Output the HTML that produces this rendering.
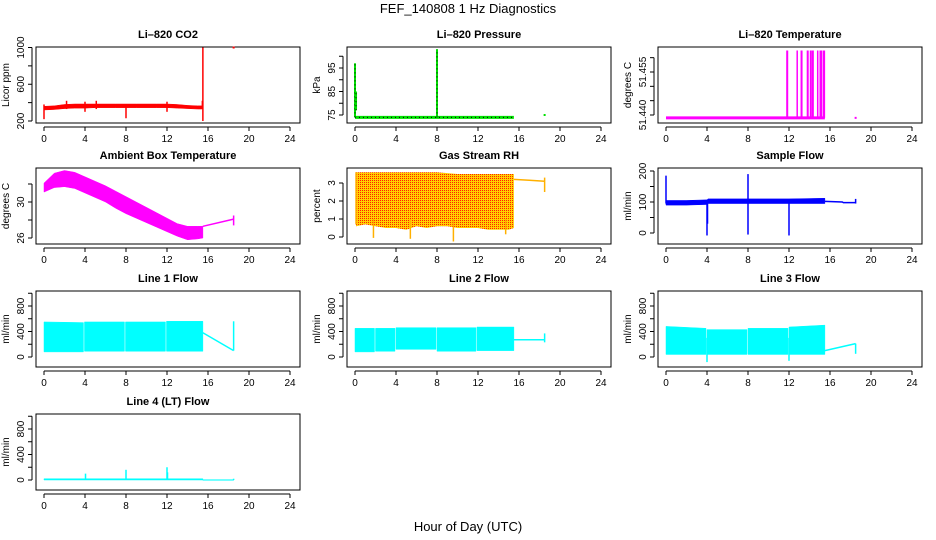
<!DOCTYPE html>
<html><head><meta charset="utf-8">
<style>
html,body{margin:0;padding:0;background:#fff;}
svg{display:block;font-family:"Liberation Sans",sans-serif;}
</style></head>
<body>
<svg id="chart" width="936" height="540" viewBox="0 0 936 540" xmlns="http://www.w3.org/2000/svg">
<defs>
<pattern id="rhpat" width="2" height="2" patternUnits="userSpaceOnUse">
<rect width="2" height="2" fill="#ffd000"/><rect width="1" height="1" fill="#ff2000"/>
</pattern>
</defs>
<text x="468" y="13" text-anchor="middle" font-size="13">FEF_140808  1 Hz Diagnostics</text>
<text x="468" y="531" text-anchor="middle" font-size="13">Hour of Day (UTC)</text>
</svg>
<script>
// x-axis ticks (hours)
var xTicks = [0,4,8,12,16,20,24];

// Li-820 CO2
var co2Hours = [0,1,2,3,4,5,6,7,8,9,10,11,12,13,14,15,15.4];
var co2Lo = [320,325,335,340,340,345,345,345,345,345,345,345,345,340,335,330,330];
var co2Hi = [360,365,380,385,385,385,385,385,385,385,385,385,385,380,370,365,365];
var co2SpikeX = [0,2.2,4,5.1,8,12,15.45,15.5];
var co2SpikeLo = [220,330,300,330,230,300,330,200];
var co2SpikeHi = [380,420,410,420,380,410,420,1000];
var co2PointX = [18.5];
var co2PointY = [1000];
var co2Ticks = [200,400,600,800,1000];
var co2Labels = ["200","","600","","1000"];

// Li-820 Pressure
var presLineX = [0,15.5];
var presLineY = [74,74];
var presSpikeX = [0,0.1,8];
var presSpikeLo = [74,77,74];
var presSpikeHi = [97,85,103];
var presPointX = [18.5];
var presPointY = [75];
var presTicks = [75,80,85,90,95,100];
var presLabels = ["75","","85","","95",""];

// Li-820 Temperature
var tempLineX = [0,15.5];
var tempLineY = [51.439,51.439];
var tempSpikeX = [11.8,11.85,12.8,13.2,13.25,13.8,13.85,14.1,14.25,14.35,14.8,15.05,15.15,15.35,15.45];
var tempSpikeLo = [51.439,51.439,51.439,51.439,51.439,51.439,51.439,51.439,51.439,51.439,51.439,51.439,51.439,51.439,51.439];
var tempSpikeHi = [51.4625,51.4625,51.4625,51.4625,51.4625,51.4625,51.4625,51.4625,51.4625,51.4625,51.4625,51.4625,51.4625,51.4625,51.4625];
var tempPointX = [18.5];
var tempPointY = [51.439];
var tempTicks = [51.440,51.445,51.450,51.455,51.460];
var tempLabels = ["51.440","","","51.455",""];

// Ambient Box Temperature
var ambHours = [0,1,2,3,4,5,6,7,8,9,10,11,12,13,14,15,15.5];
var ambHi = [32.1,33.2,33.5,33.3,32.8,32.3,31.8,31.2,30.6,30.0,29.4,28.8,28.2,27.6,27.3,27.3,27.3];
var ambLo = [31.1,31.6,31.7,31.5,31.0,30.5,30.0,29.3,28.7,28.2,27.7,27.2,26.7,26.2,25.8,25.9,26.0];
var ambTailX = [15.5,18.5];
var ambTailY = [27.3,28.1];
var ambSpikeX = [18.5];
var ambSpikeLo = [27.4];
var ambSpikeHi = [28.5];
var ambTicks = [26,28,30,32];
var ambLabels = ["26","","30",""];

// Gas Stream RH
var rhHours = [0.1,1,2,3,4,5,6,7,8,9,10,11,12,13,14,15,15.5];
var rhHi = [3.6,3.6,3.6,3.6,3.6,3.6,3.6,3.6,3.6,3.55,3.5,3.5,3.5,3.5,3.5,3.5,3.5];
var rhLo = [0.6,0.7,0.6,0.5,0.5,0.4,0.6,0.5,0.6,0.6,0.5,0.5,0.5,0.4,0.4,0.4,0.5];
var rhTailX = [15.5,17,18.5];
var rhTailY = [3.2,3.15,3.1];
var rhSpikeX = [0.1,1.8,5.4,9.6,14.7,18.5];
var rhSpikeLo = [0.7,-0.05,-0.1,-0.25,0.15,2.5];
var rhSpikeHi = [3.6,1.0,1.0,1.0,1.0,3.3];
var rhTicks = [0,1,2,3];
var rhLabels = ["0","1","2","3"];

// Sample Flow
var sfHours = [0,2,4,4.1,8,12,15.5];
var sfLo = [90,90,92,95,95,95,95];
var sfHi = [105,105,107,110,110,110,112];
var sfTailX = [15.5,17.2,17.3,18.5];
var sfTailY = [102,100,98,98];
var sfSpikeX = [0,4,4.05,8,8,12,18.5];
var sfSpikeLo = [95,-8,30,95,-5,-8,95];
var sfSpikeHi = [185,100,100,190,100,100,110];
var sfTicks = [0,50,100,150,200];
var sfLabels = ["0","","100","","200"];

// Line flows
var flowTicks = [-200,0,200,400,600,800,1000];
var flowLabels = ["","0","","400","","800",""];

var l1Hours = [0,3.85,null,3.95,7.85,null,7.95,11.85,null,11.95,15.5];
var l1Lo = [80,80,null,90,90,null,90,90,null,90,90];
var l1Hi = [550,540,null,550,550,null,550,550,null,560,560];
var l1TailX = [15.5,18.5];
var l1TailY = [380,100];
var l1SpikeX = [18.5];
var l1SpikeLo = [100];
var l1SpikeHi = [560];

var l2Hours = [0,1.9,null,2.0,3.9,null,4.0,7.9,null,8.0,11.8,null,11.9,15.5];
var l2Lo = [80,80,null,90,90,null,120,120,null,90,90,null,100,100];
var l2Hi = [450,450,null,450,450,null,460,460,null,460,460,null,470,470];
var l2TailX = [15.5,18.5];
var l2TailY = [270,270];
var l2SpikeX = [18.5];
var l2SpikeLo = [230];
var l2SpikeHi = [370];

var l3Hours = [0,3.9,null,4.0,7.9,null,8.0,11.9,null,12.0,15.5];
var l3Lo = [40,40,null,40,40,null,40,40,null,40,40];
var l3Hi = [480,450,null,430,430,null,450,450,null,470,500];
var l3TailX = [15.5,18.5];
var l3TailY = [100,210];
var l3SpikeX = [4.0,12.0,18.5];
var l3SpikeLo = [-80,-60,50];
var l3SpikeHi = [300,300,210];

var l4Hours = [0,15.5,null,15.5,18.5];
var l4Lo = [0,0,null,-5,-5];
var l4Hi = [20,20,null,5,5];
var l4SpikeX = [4.05,8,12,12.05,18.5];
var l4SpikeLo = [0,0,0,0,0];
var l4SpikeHi = [100,160,200,120,20];

var NS = "http://www.w3.org/2000/svg";
var svg = document.getElementById("chart");
var colLeft = [36,347,658];
var rowTop = [47,168,291,414];
var boxW = 264, boxH = 76;

function mk(tag, attrs, parent){
  var e = document.createElementNS(NS, tag);
  for (var k in attrs) e.setAttribute(k, attrs[k]);
  parent.appendChild(e);
  return e;
}

function drawPanel(p){
  var L = colLeft[p.col], T = rowTop[p.row];
  var g = mk("g", {}, svg);
  
  
  var xs = function(h){ return L + 8 + h * (246/24); };
  var ys = function(v){ return T + p.r1 + (v - p.v1) * (p.r2 - p.r1) / (p.v2 - p.v1); };

  var ttl = mk("text", {x: L + boxW/2, y: T - 9, "text-anchor": "middle", "font-size": "11", "font-weight": "bold"}, g);
  ttl.textContent = p.title;
  
  

  var box = mk("rect", {x: L, y: T, width: boxW, height: boxH, fill: "none", stroke: "#000", "stroke-width": "1"}, g);
  
  

  var xa = mk("g", {}, g);
  
  
  mk("line", {x1: xs(xTicks[0]), x2: xs(xTicks[xTicks.length-1]), y1: T+boxH+4, y2: T+boxH+4, stroke: "#000"}, xa);
  xTicks.forEach(function(t){
    mk("line", {x1: xs(t), x2: xs(t), y1: T+boxH+4, y2: T+boxH+8, stroke: "#000"}, xa);
    var tx = mk("text", {x: xs(t), y: T+boxH+19, "text-anchor": "middle", "font-size": "10"}, xa);
    tx.textContent = String(t);
  });

  var ya = mk("g", {}, g);
  
  
  var yt = [], ytLabels = [];
  p.ticks.forEach(function(t, i){ var y = ys(t); if (y >= T - 2 && y <= T + boxH + 2) { yt.push(t); ytLabels.push(p.labels[i]); } });
  mk("line", {x1: L-4, x2: L-4, y1: ys(yt[0]), y2: ys(yt[yt.length-1]), stroke: "#000"}, ya);
  yt.forEach(function(t, i){
    var y = ys(t);
    mk("line", {x1: L-8, x2: L-4, y1: y, y2: y, stroke: "#000"}, ya);
    if (ytLabels[i]) {
      var tx = mk("text", {x: L-12, y: y, "text-anchor": "middle", "font-size": "10", transform: "rotate(-90 " + (L-12) + " " + y + ")"}, ya);
      tx.textContent = ytLabels[i];
    }
  });
  var yl = mk("text", {x: L-27, y: T + boxH/2, "text-anchor": "middle", "font-size": "10", transform: "rotate(-90 " + (L-27) + " " + (T+boxH/2) + ")"}, g);
  yl.textContent = p.ylab;
  
  

  var s = mk("g", {}, g);
  
  
  var fill = p.fill || p.color;

  if (p.bandX) {
    var seg = [];
    var flush = function(){
      if (seg.length < 2) { seg = []; return; }
      var pts = [];
      seg.forEach(function(i){ pts.push(xs(p.bandX[i]) + "," + ys(p.bandHi[i])); });
      seg.slice().reverse().forEach(function(i){ pts.push(xs(p.bandX[i]) + "," + ys(p.bandLo[i])); });
      var pg = mk("polygon", {points: pts.join(" "), fill: fill, stroke: p.fill ? "none" : p.color, "stroke-width": "0.5"}, s);
      
      
      seg = [];
    };
    for (var i = 0; i < p.bandX.length; i++) {
      if (p.bandX[i] === null) flush(); else seg.push(i);
    }
    flush();
  }
  function poly(X, Y, nm, extra){
    var pts = X.map(function(x, i){ return xs(x) + "," + ys(Y[i]); }).join(" ");
    var a = {points: pts, fill: "none", stroke: p.color, "stroke-width": p.lw || 1.5};
    for (var k in (extra||{})) a[k] = extra[k];
    var pl = mk("polyline", a, s);
    
    
    return pl;
  }
  if (p.lineX) {
    poly(p.lineX, p.lineY, 'line', {"stroke-width": 3});
    if (p.dotted) poly(p.lineX, p.lineY, 'line-dots', {stroke: "#000", "stroke-width": 1, "stroke-dasharray": "1,3"});
  }
  if (p.tailX) poly(p.tailX, p.tailY, 'tail');
  if (p.spikeX) {
    p.spikeX.forEach(function(x, i){
      var ln = mk("line", {x1: xs(x), x2: xs(x), y1: ys(p.spikeLo[i]), y2: ys(p.spikeHi[i]), stroke: p.color, "stroke-width": p.spikeW || 1.5}, s);
      
      
      if (p.dotted) mk("line", {x1: xs(x), x2: xs(x), y1: ys(p.spikeLo[i]), y2: ys(p.spikeHi[i]), stroke: "#000", "stroke-width": 1, "stroke-dasharray": "1,3"}, s);
    });
  }
  if (p.pointX) {
    p.pointX.forEach(function(x, i){
      var pt = mk("rect", {x: xs(x)-1, y: ys(p.pointY[i])-1, width: 2, height: 2, fill: p.color}, s);
      
      
    });
  }
}

var panels = [
  {name:"co2", title:"Li\u2013820 CO2", ylab:"Licor ppm", col:0, row:0, v1:200, r1:74, v2:1000, r2:0.5, ticks:co2Ticks, labels:co2Labels, color:"#ff0000",
   bandX:co2Hours, bandLo:co2Lo, bandHi:co2Hi, spikeX:co2SpikeX, spikeLo:co2SpikeLo, spikeHi:co2SpikeHi, pointX:co2PointX, pointY:co2PointY},
  {name:"pressure", title:"Li\u2013820 Pressure", ylab:"kPa", col:1, row:0, v1:75, r1:68, v2:95, r2:21, ticks:presTicks, labels:presLabels, color:"#00e000", dotted:true,
   lineX:presLineX, lineY:presLineY, spikeX:presSpikeX, spikeLo:presSpikeLo, spikeHi:presSpikeHi, spikeW:2, pointX:presPointX, pointY:presPointY},
  {name:"li820-temp", title:"Li\u2013820 Temperature", ylab:"degrees C", col:2, row:0, v1:51.440, r1:68, v2:51.455, r2:25, ticks:tempTicks, labels:tempLabels, color:"#ff00ff",
   lineX:tempLineX, lineY:tempLineY, spikeX:tempSpikeX, spikeLo:tempSpikeLo, spikeHi:tempSpikeHi, spikeW:1.5, pointX:tempPointX, pointY:tempPointY},
  {name:"ambient-temp", title:"Ambient Box Temperature", ylab:"degrees C", col:0, row:1, v1:26, r1:70, v2:30, r2:34, ticks:ambTicks, labels:ambLabels, color:"#ff00ff",
   bandX:ambHours, bandLo:ambLo, bandHi:ambHi, tailX:ambTailX, tailY:ambTailY, spikeX:ambSpikeX, spikeLo:ambSpikeLo, spikeHi:ambSpikeHi},
  {name:"rh", title:"Gas Stream RH", ylab:"percent", col:1, row:1, v1:0, r1:69, v2:3, r2:15, ticks:rhTicks, labels:rhLabels, color:"#ffb000", fill:"url(#rhpat)",
   bandX:rhHours, bandLo:rhLo, bandHi:rhHi, tailX:rhTailX, tailY:rhTailY, spikeX:rhSpikeX, spikeLo:rhSpikeLo, spikeHi:rhSpikeHi},
  {name:"sample-flow", title:"Sample Flow", ylab:"ml/min", col:2, row:1, v1:0, r1:65, v2:200, r2:3, ticks:sfTicks, labels:sfLabels, color:"#0000ff",
   bandX:sfHours, bandLo:sfLo, bandHi:sfHi, tailX:sfTailX, tailY:sfTailY, spikeX:sfSpikeX, spikeLo:sfSpikeLo, spikeHi:sfSpikeHi},
  {name:"line1-flow", title:"Line 1 Flow", ylab:"ml/min", col:0, row:2, v1:0, r1:66, v2:800, r2:15, ticks:flowTicks, labels:flowLabels, color:"#00ffff",
   bandX:l1Hours, bandLo:l1Lo, bandHi:l1Hi, tailX:l1TailX, tailY:l1TailY, spikeX:l1SpikeX, spikeLo:l1SpikeLo, spikeHi:l1SpikeHi},
  {name:"line2-flow", title:"Line 2 Flow", ylab:"ml/min", col:1, row:2, v1:0, r1:66, v2:800, r2:15, ticks:flowTicks, labels:flowLabels, color:"#00ffff",
   bandX:l2Hours, bandLo:l2Lo, bandHi:l2Hi, tailX:l2TailX, tailY:l2TailY, spikeX:l2SpikeX, spikeLo:l2SpikeLo, spikeHi:l2SpikeHi},
  {name:"line3-flow", title:"Line 3 Flow", ylab:"ml/min", col:2, row:2, v1:0, r1:66, v2:800, r2:15, ticks:flowTicks, labels:flowLabels, color:"#00ffff",
   bandX:l3Hours, bandLo:l3Lo, bandHi:l3Hi, tailX:l3TailX, tailY:l3TailY, spikeX:l3SpikeX, spikeLo:l3SpikeLo, spikeHi:l3SpikeHi},
  {name:"line4-flow", title:"Line 4 (LT) Flow", ylab:"ml/min", col:0, row:3, v1:0, r1:66, v2:800, r2:15, ticks:flowTicks, labels:flowLabels, color:"#00ffff",
   bandX:l4Hours, bandLo:l4Lo, bandHi:l4Hi, spikeX:l4SpikeX, spikeLo:l4SpikeLo, spikeHi:l4SpikeHi}
];
panels.forEach(drawPanel);
</script>
</body></html>
